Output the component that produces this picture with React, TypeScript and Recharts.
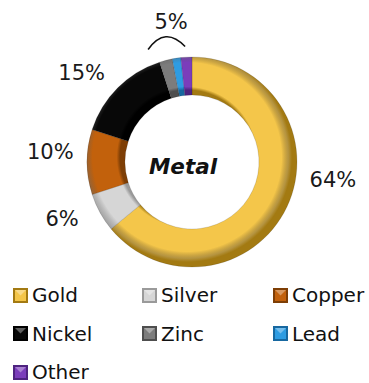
import { Label, Legend, Pie, PieChart } from "recharts";

const metals = ["Gold", "Silver", "Copper", "Nickel", "Zinc", "Lead", "Other"];
const shares = [64, 6, 10, 15, 2, 1.3, 1.7];
const shareLabels = ["64%", "6%", "10%", "15%", "", "5%", ""];

const baseColors = ["#F4C64A", "#D6D6D6", "#C2610C", "#080808", "#7C7C7C", "#2E9CE2", "#7B3DBB"];
const edgeColors = ["#A37A12", "#9A9A9A", "#7E3E05", "#000000", "#4E4E4E", "#1768A0", "#4E2380"];

// nudges (degrees, counter-clockwise) so labels sit where the original put them
const labelNudge = [18, -5, -4, 6, 0, 0, 0];

const CX = 187;
const CY = 157;
const INNER = 67;
const OUTER = 105;
const RAD = Math.PI / 180;

const data = metals.map((name, i) => ({
    name,
    value: shares[i],
    fill: `url(#ring-${i})`,
}));

const renderLabel = (p: any) => {
    const text = shareLabels[p.index];
    if (!text) return null;
    const a = p.midAngle + labelNudge[p.index];
    const r = p.outerRadius + 37;
    const x = p.cx + r * Math.cos(-a * RAD);
    const y = p.cy + r * Math.sin(-a * RAD);
    return (
        <g key={`lbl-${p.index}`}>
            <text
                x={x}
                y={y}
                textAnchor="middle"
                dominantBaseline="central"
                fontFamily="DejaVu Sans"
                fontSize={21}
                fill="#1a1a1a"
            >
                {text}
            </text>
            {p.index === 5 && (
                <path
                    d={`M ${x - 23} ${y + 28} Q ${x - 6} ${y + 4} ${x + 14} ${y + 25}`}
                    fill="none"
                    stroke="#111"
                    strokeWidth={1.6}
                />
            )}
        </g>
    );
};

const LegendBox = () => (
    <div
        style={{
            display: "grid",
            gridTemplateColumns: "129px 131px 96px",
            fontFamily: "DejaVu Sans",
            fontSize: 20,
            lineHeight: "18px",
            color: "#111",
        }}
    >
        {metals.map((name, i) => (
            <div key={name} style={{ display: "flex", alignItems: "center", height: 38.5 }}>
                <svg width={15} height={15} style={{ marginRight: 4 }}>
                    <rect x={0} y={0} width={15} height={15} fill={edgeColors[i]} />
                    <rect x={2} y={2} width={11} height={11} fill={baseColors[i]} />
                    <polygon points="2,2 13,2 7.5,7.5" fill="#ffffff" opacity={0.35} />
                </svg>
                <span>{name}</span>
            </div>
        ))}
    </div>
);

export default function App() {
    return (
        <div style={{ position: "absolute", left: 0, top: 0, width: 369, height: 383, background: "#fff" }}>
            <PieChart width={369} height={383}>
                <defs>
                    {baseColors.map((c, i) => (
                        <radialGradient
                            key={i}
                            id={`ring-${i}`}
                            gradientUnits="userSpaceOnUse"
                            cx={CX}
                            cy={CY}
                            r={OUTER}
                        >
                            <stop offset={INNER / OUTER} stopColor={edgeColors[i]} />
                            <stop offset={0.67} stopColor={c} />
                            <stop offset={0.9} stopColor={c} />
                            <stop offset={0.965} stopColor={edgeColors[i]} stopOpacity={0.8} />
                            <stop offset={1} stopColor={edgeColors[i]} />
                        </radialGradient>
                    ))}
                </defs>
                <Pie
                    data={data}
                    dataKey="value"
                    nameKey="name"
                    cx={CX}
                    cy={CY}
                    innerRadius={INNER}
                    outerRadius={OUTER}
                    startAngle={90}
                    endAngle={-270}
                    stroke="rgba(0,0,0,0.25)"
                    strokeWidth={0.5}
                    label={renderLabel}
                    labelLine={false}
                    isAnimationActive={false}
                >
                    <Label
                        position="center"
                        content={(props: any) => {
                            const vb = props.viewBox || {};
                            return (
                                <text
                                    x={(vb.cx ?? CX) - 4}
                                    y={(vb.cy ?? CY) + 9}
                                    textAnchor="middle"
                                    dominantBaseline="central"
                                    fontFamily="DejaVu Sans"
                                    fontWeight="bold"
                                    fontStyle="italic"
                                    fontSize={21.5}
                                    fill="#111"
                                >
                                    Metal
                                </text>
                            );
                        }}
                    />
                </Pie>
                <Legend
                    content={<LegendBox />}
                    wrapperStyle={{ top: 276, left: 13, bottom: "auto", width: 356 }}
                />
            </PieChart>
        </div>
    );
}
